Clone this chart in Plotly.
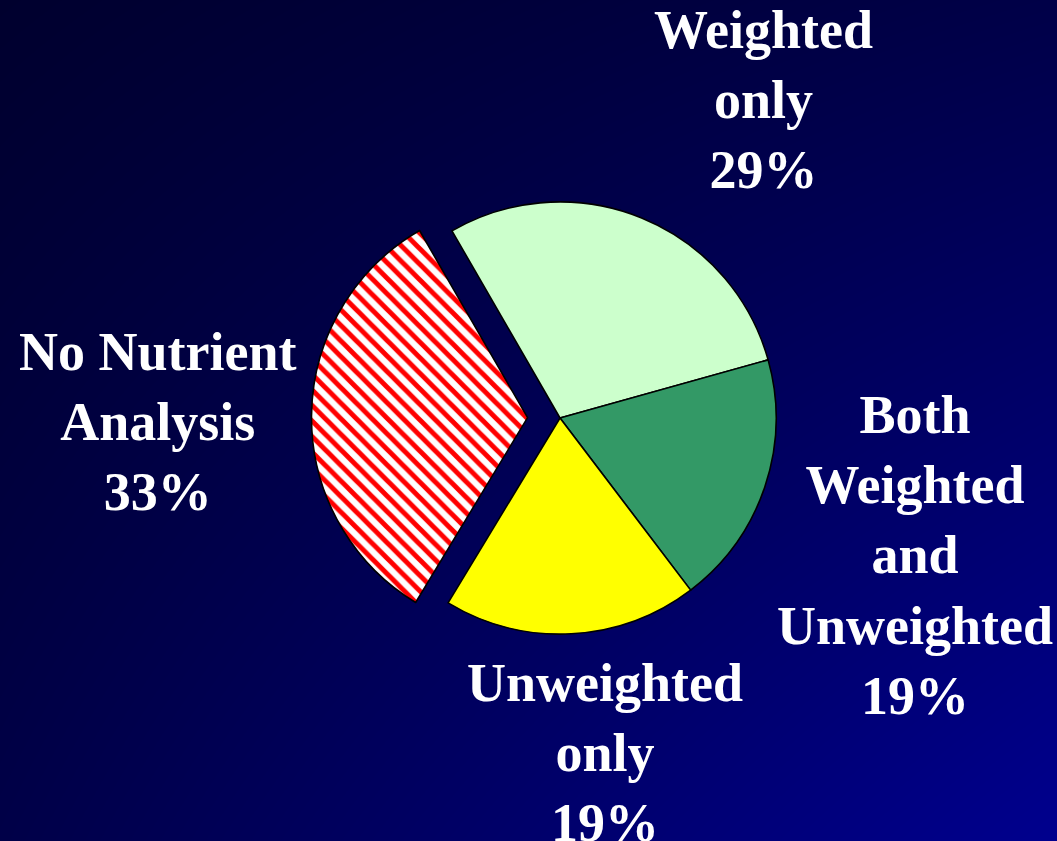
import plotly.graph_objects as go

# --- data ---
labels = ["Weighted<br>only", "Both<br>Weighted<br>and<br>Unweighted", "Unweighted<br>only", "No Nutrient<br>Analysis"]
values = [29, 19, 19, 33]
colors = ["#CCFFCC", "#339966", "#FFFF00", "#FFFFFF"]
pulls = [0, 0, 0, 0.15]
shapes = ["", "", "", "\\"]

# label anchor points (pixels in the 1057x841 frame)
label_pos = [(763, 100), (915, 555), (605, 753), (157, 422)]

W, H = 1057, 841

fig = go.Figure()

# background gradient: dark navy top-left -> brighter blue bottom-right
fig.add_trace(
    go.Heatmap(
        x=[0, 1],
        y=[0, 1],
        z=[[0.27, 1.0], [0.0, 0.27]],
        zsmooth="best",
        colorscale=[[0, "#00002E"], [0.5, "#00005E"], [1, "#00008E"]],
        showscale=False,
        hoverinfo="skip",
    )
)

fig.add_trace(
    go.Pie(
        labels=labels,
        values=values,
        sort=False,
        direction="clockwise",
        rotation=-30,
        pull=pulls,
        textinfo="none",
        showlegend=False,
        marker=dict(
            colors=colors,
            line=dict(color="black", width=1.6),
            pattern=dict(shape=shapes, fgcolor="#FF0000", bgcolor="#FFFFFF", size=11, solidity=0.45),
        ),
        domain=dict(x=[311.5 / W, 808.5 / W], y=[174.5 / H, 671.5 / H]),
    )
)

for lbl, val, (px, py) in zip(labels, values, label_pos):
    fig.add_annotation(
        x=px / W,
        y=1 - py / H,
        xref="paper",
        yref="paper",
        text=f"{lbl}<br>{val}%",
        showarrow=False,
        xanchor="center",
        yanchor="middle",
        align="center",
        font=dict(family="Liberation Serif, Times New Roman, serif", size=54, color="white", weight="bold"),
    )

fig.update_layout(
    width=W,
    height=H,
    margin=dict(l=0, r=0, t=0, b=0),
    paper_bgcolor="#000050",
    plot_bgcolor="#000050",
    xaxis=dict(visible=False, range=[0, 1], fixedrange=True),
    yaxis=dict(visible=False, range=[0, 1], fixedrange=True),
)

fig.write_html(
    "out.html",
    config={"displayModeBar": False},
    post_script="document.body.style.margin='0';document.body.style.overflow='hidden';",
)
